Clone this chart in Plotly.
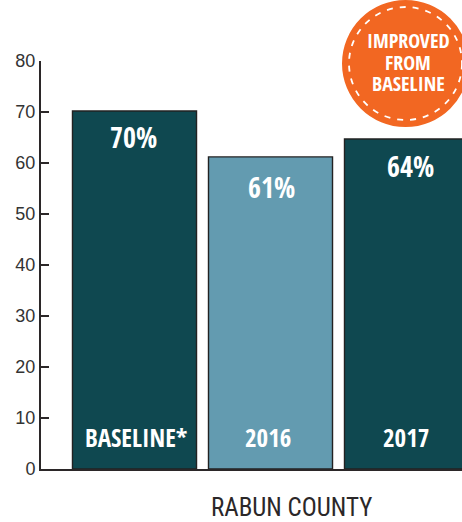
import plotly.graph_objects as go

categories = ["BASELINE*", "2016", "2017"]
values = [70.2, 61.2, 64.7]
value_labels = ["70%", "61%", "64%"]
bar_colors = ["#0f4850", "#639bb0", "#0f4850"]
y_ticks = [0, 10, 20, 30, 40, 50, 60, 70, 80]
x_title = "RABUN COUNTY"
badge_lines = ["IMPROVED", "FROM", "BASELINE"]

W, H = 462, 522
L, R, T, B = 41, 0, 61, 53
PW, PH = W - L - R, H - T - B
COND = "Open Sans Condensed, Roboto Condensed, sans-serif"
INK = "#2b2728"
VALUE_XSHIFT = [-1, 1, 4]
VALUE_YSHIFT = [-26, -30, -27]
CAT_XSHIFT = [1, -3, -1]
BADGE_Y = [41, 62, 83]


def px(x):
    return (x - L) / PW


def py(y):
    return (H - B - y) / PH


xs = list(range(len(categories)))
fig = go.Figure(go.Bar(
    x=xs, y=values, width=0.912,
    marker=dict(color=bar_colors, line=dict(color="#222222", width=1.4)),
    hoverinfo="skip",
))

annotations = []
for i, (v, lab, cat) in enumerate(zip(values, value_labels, categories)):
    annotations.append(dict(x=i, y=v, yshift=VALUE_YSHIFT[i], xshift=VALUE_XSHIFT[i], text=f"<b>{lab}</b>",
                            showarrow=False, xanchor="center",
                            font=dict(family=COND, size=28, color="white"), yanchor="middle"))
    annotations.append(dict(x=i, y=6, yshift=1, xshift=CAT_XSHIFT[i], text=f"<b>{cat}</b>", showarrow=False,
                            xanchor="center", font=dict(family=COND, size=25, color="white"), yanchor="middle"))
for line, y in zip(badge_lines, BADGE_Y):
    annotations.append(dict(xref="paper", yref="paper", x=px(408), y=py(y), text=f"<b>{line}</b>",
                            showarrow=False, align="center", xanchor="center", yanchor="middle",
                            font=dict(family=COND, size=20, color="white")))
annotations.append(dict(xref="paper", yref="paper", x=px(291), y=py(507), text=x_title,
                        showarrow=False, xanchor="center", yanchor="middle",
                        font=dict(family="Roboto Condensed, sans-serif", size=25, color=INK)))

shapes = [
    dict(type="circle", xref="paper", yref="paper", x0=px(342), x1=px(469), y0=py(127), y1=py(0),
         fillcolor="#f26722", line=dict(width=0), layer="above"),
    dict(type="circle", xref="paper", yref="paper", x0=px(349), x1=px(462), y0=py(120), y1=py(7),
         fillcolor="rgba(0,0,0,0)", line=dict(color="white", width=1.8, dash="6px,7px"), layer="above"),
]

fig.update_layout(
    width=W, height=H, autosize=False,
    margin=dict(l=L, r=R, t=T, b=B, pad=0),
    paper_bgcolor="white", plot_bgcolor="white", showlegend=False,
    annotations=annotations, shapes=shapes,
    xaxis=dict(range=[-0.6875, 2.408], showticklabels=False, ticks="", showgrid=False, zeroline=False,
               showline=True, linecolor=INK, linewidth=2),
    yaxis=dict(range=[0, 80], tickvals=y_ticks, ticks="inside", ticklen=8, tickwidth=2, tickcolor=INK,
               showgrid=False, zeroline=False, showline=True, linecolor=INK, linewidth=2,
               tickfont=dict(family="Liberation Sans, Arial, sans-serif", size=18, color="#333333")),
)

fig.write_html("out.html", config=dict(displayModeBar=False),
               post_script="document.body.style.margin='0';document.body.style.overflow='hidden';")
